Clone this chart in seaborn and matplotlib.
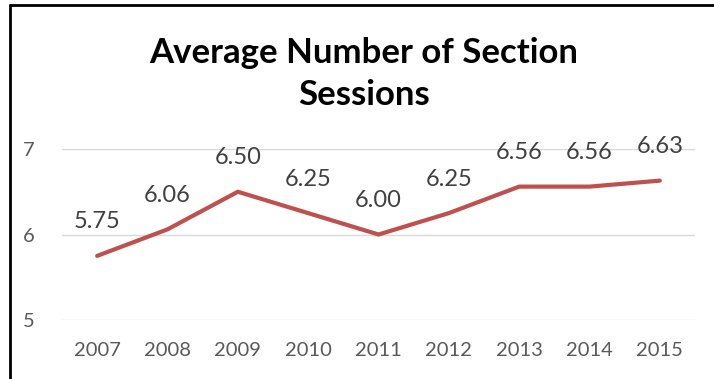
import matplotlib
matplotlib.use("Agg")
import matplotlib.pyplot as plt
from matplotlib.lines import Line2D
import seaborn as sns
import pandas as pd

years = ["2007", "2008", "2009", "2010", "2011", "2012", "2013", "2014", "2015"]
sessions = [5.75, 6.06, 6.50, 6.25, 6.00, 6.25, 6.56, 6.56, 6.63]
y_ticks = [5, 6, 7]
title = "Average Number of Section\nSessions"

sns.set_theme(style="white")
plt.rcParams["font.family"] = ["Lato", "DejaVu Sans"]

W, H = 714, 379
fig = plt.figure(figsize=(W / 100, H / 100), dpi=100)
ax = fig.add_axes([62 / W, 59 / H, (695 - 62) / W, (320 - 149) / H])

df = pd.DataFrame({"year": years, "sessions": sessions})
sns.lineplot(data=df, x="year", y="sessions", ax=ax, color="#C0504D",
             linewidth=3.0, solid_capstyle="round", solid_joinstyle="miter", sort=False)

ax.set_xlim(-0.5, len(years) - 0.5)
ax.set_ylim(5, 7)
ax.set_yticks(y_ticks)
ax.set_yticklabels([str(t) for t in y_ticks])
ax.set_xlabel("")
ax.set_ylabel("")
ax.grid(axis="y", color="#D9D9D9", linewidth=1.0)
ax.grid(axis="x", visible=False)
for s in ax.spines.values():
    s.set_visible(False)
ax.tick_params(axis="y", length=0, pad=20, labelsize=14.5, labelcolor="#595959")
ax.tick_params(axis="x", length=0, pad=16, labelsize=14.5, labelcolor="#595959")

for i, v in enumerate(sessions):
    ax.annotate(f"{v:.2f}", (i, v), xytext=(0, 24.5), textcoords="offset points",
                ha="center", va="center", fontsize=17, color="#404040",
                annotation_clip=False)

fig.text(364 / W, 1 - 74 / H, title, ha="center", va="center", fontsize=25,
         fontweight="bold", color="#000000", linespacing=1.42)

# Frame edges along the top and left
fig.add_artist(Line2D([10 / W, 10 / W], [0, 1 - 5 / H], color="black", linewidth=2.0,
                      transform=fig.transFigure))
fig.add_artist(Line2D([10 / W, 1], [1 - 5 / H, 1 - 5 / H], color="black", linewidth=2.0,
                      transform=fig.transFigure))

fig.savefig("out.png", dpi=100)
